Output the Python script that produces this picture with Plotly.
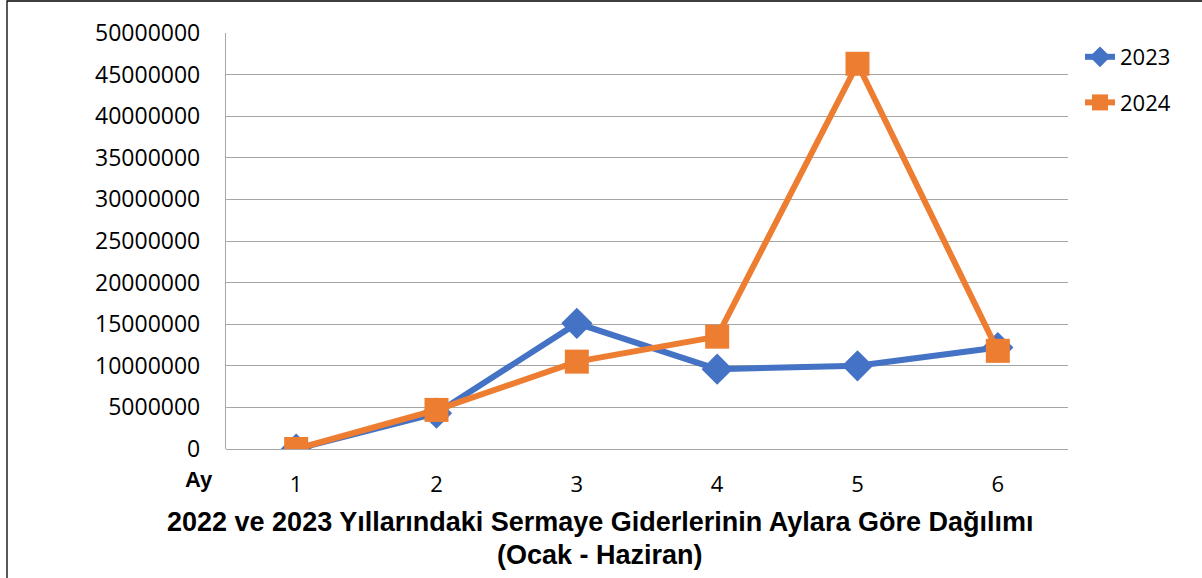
import plotly.graph_objects as go

months = ["1", "2", "3", "4", "5", "6"]
y2023 = [0, 4300000, 15100000, 9600000, 10000000, 12200000]
y2024 = [0, 4700000, 10500000, 13500000, 46300000, 11800000]
yticks = [0, 5000000, 10000000, 15000000, 20000000, 25000000, 30000000, 35000000, 40000000, 45000000, 50000000]
title_lines = ["2022 ve 2023 Yıllarındaki Sermaye Giderlerinin Aylara Göre Dağılımı", "(Ocak - Haziran)"]

BLUE = "#4472C4"
ORANGE = "#ED7D31"
FONT = "Liberation Sans, Arial"
TFONT = "Open Sans, Liberation Sans, Arial"

fig = go.Figure()
fig.add_trace(go.Scatter(x=months, y=y2023, name="2023", mode="lines+markers",
                         legendgroup="a",
                         line=dict(color=BLUE, width=6),
                         marker=dict(symbol="diamond", size=24, color=BLUE)))
fig.add_trace(go.Scatter(x=months, y=y2024, name="2024", mode="lines+markers",
                         legendgroup="b",
                         line=dict(color=ORANGE, width=6),
                         marker=dict(symbol="square", size=24, color=ORANGE)))

L, R, T, B = 226, 134, 33, 129
W, H = 1202, 578
pw, ph = W - L - R, H - T - B

fig.update_layout(
    width=W, height=H,
    margin=dict(l=L, r=R, t=T, b=B),
    paper_bgcolor="white", plot_bgcolor="white",
    font=dict(family=TFONT, size=23, color="#000000"),
    showlegend=True,
    legend=dict(x=(1080 - L) / pw, y=1 - (36 - T) / ph, xanchor="left", yanchor="top",
                font=dict(size=22, family=TFONT), bgcolor="rgba(0,0,0,0)",
                tracegroupgap=14, itemsizing="trace"),
    xaxis=dict(type="category", range=[-0.5, 5.5], showgrid=False,
               showline=False, ticks="", tickfont=dict(size=22, family=TFONT),
               ticklabelstandoff=20, zeroline=False),
    yaxis=dict(range=[0, 50000000], tickvals=yticks, ticktext=[str(v) for v in yticks],
               showgrid=True, gridcolor="#A6A6A6", gridwidth=1.3,
               showline=True, linecolor="#A6A6A6", linewidth=1.3,
               zeroline=True, zerolinecolor="#A6A6A6", zerolinewidth=1.3,
               ticks="", tickfont=dict(size=23, family=TFONT), ticklabelstandoff=20),
)

fig.add_annotation(xref="paper", yref="paper", x=(600 - L) / pw, y=-(522 - (T + ph)) / ph,
                   text="<b>" + title_lines[0] + "</b>", showarrow=False,
                   font=dict(size=27, family=FONT), xanchor="center", yanchor="middle")
fig.add_annotation(xref="paper", yref="paper", x=(600 - L) / pw, y=-(555 - (T + ph)) / ph,
                   text="<b>" + title_lines[1] + "</b>", showarrow=False,
                   font=dict(size=27, family=FONT), xanchor="center", yanchor="middle")
fig.add_annotation(xref="paper", yref="paper", x=(215 - L) / pw, y=-(479 - (T + ph)) / ph,
                   text="<b>Ay</b>", showarrow=False,
                   font=dict(size=22, family=FONT), xanchor="right", yanchor="middle")

fig.add_shape(type="rect", xref="paper", yref="paper",
              x0=(7 - L) / pw, x1=(1210 - L) / pw,
              y0=-(590 - (T + ph)) / ph, y1=1 + (T - 1) / ph,
              line=dict(color="#000000", width=1.3), layer="below")

fig.write_html("out.html", config={"displayModeBar": False},
               post_script="document.body.style.margin='0px';document.body.style.overflow='hidden';")
